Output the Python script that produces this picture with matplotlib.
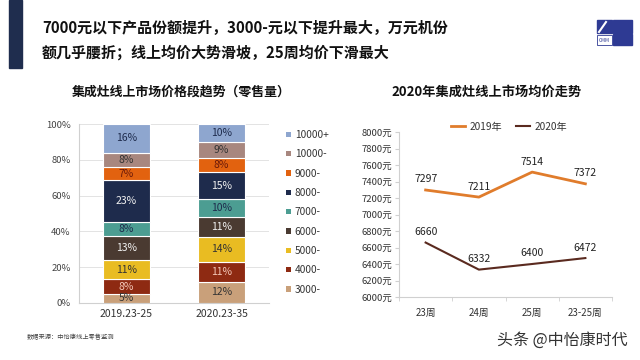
import matplotlib
matplotlib.use("Agg")
import matplotlib.pyplot as plt
from matplotlib.patches import Rectangle, Patch
from matplotlib.lines import Line2D
import numpy as np

plt.rcParams['font.family'] = ['Noto Sans CJK SC', 'DejaVu Sans']

# ---------------- data ----------------
periods = ["2019.23-25", "2020.23-35"]
segments = ["3000-", "4000-", "5000-", "6000-", "7000-", "8000-", "9000-", "10000-", "10000+"]
share_2019 = [5, 8, 11, 13, 8, 23, 7, 8, 16]
share_2020 = [12, 11, 14, 11, 10, 15, 8, 9, 10]
seg_colors = ["#C9A07A", "#8E2A12", "#E9BC22", "#4A3A31", "#4C9D92",
              "#1E2B4C", "#E2620F", "#A8877F", "#8EA6CF"]
label_colors = ["#333333", "#F4C8B8", "#333333", "#F2F2F2", "#1E2B4C",
                "#F2F2F2", "#6B1A0A", "#333333", "#1E2B4C"]

weeks = ["23周", "24周", "25周", "23-25周"]
price_2019 = [7297, 7211, 7514, 7372]
price_2020 = [6660, 6332, 6400, 6472]
yticks_price = [6000, 6200, 6400, 6600, 6800, 7000, 7200, 7400, 7600, 7800, 8000]

W, H = 640, 360
fig = plt.figure(figsize=(6.4, 3.6), dpi=100)
fig.patch.set_facecolor("white")

def fx(px):
    return px / W

def fy(py):
    return 1 - py / H

# decorative left bar
fig.patches.append(Rectangle((fx(9), fy(68)), fx(13), 68 / H, transform=fig.transFigure,
                             color="#1F2D4E", zorder=5))

# title
fig.text(fx(42), fy(28), "7000元以下产品份额提升，3000-元以下提升最大，万元机份",
         fontsize=10.8, fontweight="bold", va="center", ha="left", color="#111111")
fig.text(fx(42), fy(53), "额几乎腰折；线上均价大势滑坡，25周均价下滑最大",
         fontsize=10.8, fontweight="bold", va="center", ha="left", color="#111111")

# logo
blue = "#2E3A93"
fig.patches.append(Rectangle((fx(613), fy(33)), fx(19), 13 / H, transform=fig.transFigure, color=blue))
fig.patches.append(Rectangle((fx(613), fy(45)), fx(19), 11 / H, transform=fig.transFigure, color=blue))
fig.patches.append(Rectangle((fx(597), fy(33)), fx(15), 13 / H, transform=fig.transFigure, color=blue))
fig.add_artist(Line2D([fx(599), fx(606)], [fy(32), fy(22)], transform=fig.transFigure,
                      color="white", lw=1.5))
fig.patches.append(Rectangle((fx(597), fy(45)), fx(15), 10 / H, transform=fig.transFigure,
                             facecolor="white", edgecolor=blue, lw=0.6))
fig.text(fx(604.5), fy(40), "CMM", fontsize=3.5, color=blue, ha="center", va="center")

# ---------------- left chart ----------------
fig.text(fx(181), fy(92), "集成灶线上市场价格段趋势（零售量）", fontsize=9.3,
         fontweight="bold", ha="center", va="center", color="#111111")

ax1 = fig.add_axes([fx(79), fy(303), fx(190), (303 - 124) / H])
x = np.arange(len(periods))
data = np.array([share_2019, share_2020], dtype=float)
norm = data / data.sum(axis=1, keepdims=True) * 100
bottom = np.zeros(len(periods))
for i, seg in enumerate(segments):
    vals = norm[:, i]
    ax1.bar(x, vals, width=0.5, bottom=bottom, color=seg_colors[i],
            edgecolor="white", linewidth=0.8, label=seg, zorder=3)
    for j in range(len(periods)):
        ax1.text(x[j], bottom[j] + vals[j] / 2, f"{int(data[j, i])}%", ha="center",
                 va="center", fontsize=7.5, color=label_colors[i], zorder=4)
    bottom += vals
ax1.set_xlim(-0.5, 1.5)
ax1.set_ylim(0, 100)
ax1.set_yticks(np.arange(0, 101, 20))
ax1.set_yticklabels([f"{v}%" for v in range(0, 101, 20)], fontsize=6.8, color="#444444")
ax1.set_xticks(x)
ax1.set_xticklabels(periods, fontsize=7.5, color="#333333")
ax1.grid(axis="y", color="#E3E3E3", linewidth=0.7, zorder=0)
for s in ["top", "right"]:
    ax1.spines[s].set_visible(False)
ax1.spines["left"].set_color("#D0D0D0")
ax1.spines["bottom"].set_color("#D0D0D0")
ax1.tick_params(axis="y", length=0, pad=6)
ax1.tick_params(axis="x", length=0, pad=4)

handles = [Patch(facecolor=seg_colors[i], label=segments[i]) for i in range(len(segments))][::-1]
leg = fig.legend(handles=handles, loc="upper left", bbox_to_anchor=(fx(282), fy(126)),
                 frameon=False, fontsize=7.3, handlelength=0.45, handleheight=0.45,
                 handletextpad=0.4, labelspacing=0.92, borderaxespad=0)
for t in leg.get_texts():
    t.set_color("#333333")

fig.text(fx(27), fy(337), "数据来源：中怡康线上零售监测", fontsize=4.5, color="#444444",
         ha="left", va="center")

# ---------------- right chart ----------------
fig.text(fx(487), fy(92), "2020年集成灶线上市场均价走势", fontsize=9.5,
         fontweight="bold", ha="center", va="center", color="#111111")

ax2 = fig.add_axes([fx(399), fy(297), fx(213), (297 - 132) / H])
xi = np.arange(len(weeks))
c19 = "#E07C2C"
c20 = "#5A2A1F"
ax2.plot(xi, price_2019, color=c19, lw=2, label="2019年", zorder=3)
ax2.plot(xi, price_2020, color=c20, lw=1.5, label="2020年", zorder=3)
for i in range(len(weeks)):
    ax2.annotate(str(price_2019[i]), (xi[i], price_2019[i]), xytext=(0, 4),
                 textcoords="offset points", ha="center", va="bottom", fontsize=7.5, color="#222222")
    ax2.annotate(str(price_2020[i]), (xi[i], price_2020[i]), xytext=(0, 4),
                 textcoords="offset points", ha="center", va="bottom", fontsize=7.5, color="#222222")
ax2.set_xlim(-0.5, len(weeks) - 0.5)
ax2.set_ylim(6000, 8000)
ax2.set_yticks(yticks_price)
ax2.set_yticklabels([f"{v}元" for v in yticks_price], fontsize=6.8, color="#333333")
ax2.set_xticks(xi)
ax2.set_xticklabels(weeks, fontsize=7, color="#333333")
ax2.set_xticks(np.arange(-0.5, len(weeks), 1), minor=True)
for s in ["top", "right"]:
    ax2.spines[s].set_visible(False)
ax2.spines["left"].set_color("#D0D0D0")
ax2.spines["bottom"].set_color("#D0D0D0")
ax2.tick_params(axis="y", length=3, color="#D0D0D0", pad=2)
ax2.tick_params(axis="x", which="major", length=0, pad=8)
ax2.tick_params(axis="x", which="minor", length=3, color="#D0D0D0")

leg2 = fig.legend(loc="center", bbox_to_anchor=(fx(509), fy(127)), ncol=2, frameon=False,
                  fontsize=7.3, handlelength=1.4, handletextpad=0.4, columnspacing=1.4,
                  borderaxespad=0, handles=ax2.get_lines())
for t in leg2.get_texts():
    t.set_color("#333333")

# watermark
fig.text(fx(628), fy(340), "头条 @中怡康时代", fontsize=11.5, color="#333333",
         ha="right", va="center")

fig.savefig("out.png", dpi=100, facecolor="white")
